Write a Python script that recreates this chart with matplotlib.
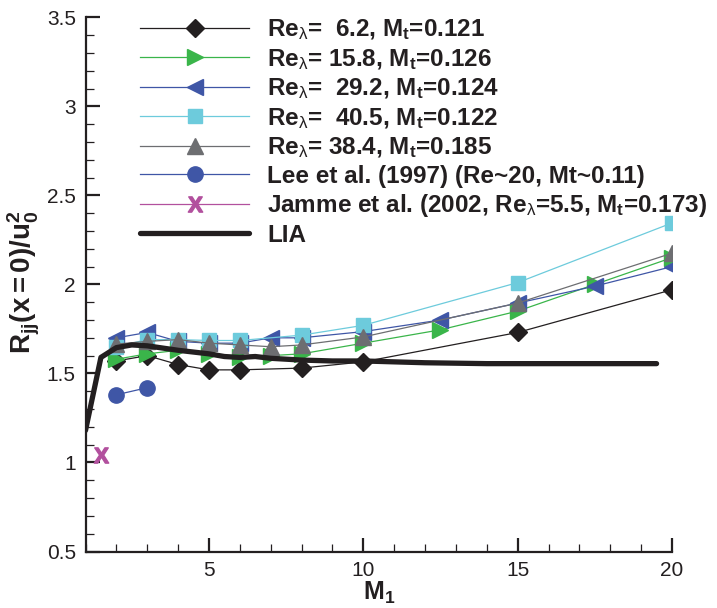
import matplotlib
matplotlib.use("Agg")
import matplotlib.pyplot as plt
from matplotlib.ticker import MultipleLocator, FixedLocator, FixedFormatter

plt.rcParams['font.family'] = ['Liberation Sans', 'DejaVu Sans']
plt.rcParams['mathtext.fontset'] = 'custom'
plt.rcParams['mathtext.rm'] = 'Liberation Sans'
plt.rcParams['mathtext.bf'] = 'Liberation Sans:bold'
plt.rcParams['mathtext.it'] = 'Liberation Sans:italic'
plt.rcParams['mathtext.sf'] = 'Liberation Sans'

# ---- data ----
re62_x = [2, 3, 4, 5, 6, 8, 10, 15, 20]
re62_y = [1.57, 1.60, 1.55, 1.52, 1.52, 1.53, 1.565, 1.73, 1.97]

re158_x = [2, 3, 4, 5, 6, 7, 8, 10, 12.5, 15, 17.5, 20]
re158_y = [1.58, 1.61, 1.63, 1.61, 1.59, 1.60, 1.61, 1.67, 1.745, 1.85, 2.0, 2.15]

re292_x = [2, 3, 4, 5, 6, 7, 8, 10, 12.5, 15, 17.5, 20]
re292_y = [1.70, 1.73, 1.68, 1.67, 1.67, 1.70, 1.70, 1.735, 1.80, 1.895, 1.99, 2.10]

re405_x = [2, 3, 4, 5, 6, 8, 10, 15, 20]
re405_y = [1.65, 1.69, 1.69, 1.685, 1.685, 1.715, 1.77, 2.01, 2.345]

re384_x = [2, 3, 4, 5, 6, 7, 8, 10, 15, 20]
re384_y = [1.665, 1.68, 1.69, 1.67, 1.66, 1.65, 1.66, 1.705, 1.895, 2.175]

lee_x = [2, 3]
lee_y = [1.38, 1.42]

jamme_x = [1.5]
jamme_y = [1.04]

lia_x = [1, 1.5, 2, 2.5, 3, 4, 5, 5.5, 6, 6.5, 7, 8, 9, 10, 11, 12, 14, 16, 18, 19.5]
lia_y = [1.18, 1.59, 1.645, 1.66, 1.655, 1.63, 1.61, 1.595, 1.59, 1.595, 1.585,
         1.575, 1.57, 1.57, 1.565, 1.56, 1.555, 1.555, 1.555, 1.555]

labels = [
    'Re$_{\\mathrm{λ}}$=  6.2, M$_{\\mathbf{t}}$=0.121',
    'Re$_{\\mathrm{λ}}$= 15.8, M$_{\\mathbf{t}}$=0.126',
    'Re$_{\\mathrm{λ}}$=  29.2, M$_{\\mathbf{t}}$=0.124',
    'Re$_{\\mathrm{λ}}$=  40.5, M$_{\\mathbf{t}}$=0.122',
    'Re$_{\\mathrm{λ}}$= 38.4, M$_{\\mathbf{t}}$=0.185',
    'Lee et al. (1997) (Re~20, Mt~0.11)',
    'Jamme et al. (2002, Re$_{\\mathrm{λ}}$=5.5, M$_{\\mathbf{t}}$=0.173)',
    'LIA',
]

ytick_vals = [0.5, 1, 1.5, 2, 2.5, 3, 3.5]
ytick_labels = ['0.5', '1', '1.5', '2', '2.5', '3', '3.5']
xtick_vals = [5, 10, 15, 20]
xtick_labels = ['5', '10', '15', '20']

# ---- figure ----
fig = plt.figure(figsize=(7.17, 6.08), dpi=100)
ax = fig.add_axes([85.5 / 717, 56.5 / 608, (672 - 85.5) / 717, (551.5 - 17.3) / 608])

black = '#231f20'
green = '#3ab54a'
blue = '#3f56a6'
cyan = '#6dcbdc'
gray = '#6d6e71'
magenta = '#b2509e'

lw = 0.9
ax.plot(re62_x, re62_y, color=black, lw=lw, marker='D', ms=9.5, label=labels[0], zorder=3)
ax.plot(re158_x, re158_y, color=green, lw=lw, marker='>', ms=11, label=labels[1], zorder=3)
ax.plot(re292_x, re292_y, color=blue, lw=lw, marker='<', ms=11, label=labels[2], zorder=3)
ax.plot(re405_x, re405_y, color=cyan, lw=lw, marker='s', ms=9.5, label=labels[3], zorder=3)
ax.plot(re384_x, re384_y, color=gray, lw=lw, marker='^', ms=11, label=labels[4], zorder=3)
ax.plot(lee_x, lee_y, color=blue, lw=lw, marker='o', ms=11, label=labels[5], zorder=3)
ax.plot(jamme_x, jamme_y, color=magenta, lw=lw, marker=r'$\mathbf{X}$', ms=11,
        label=labels[6], zorder=3)
ax.plot(lia_x, lia_y, color=black, lw=3.8, solid_capstyle='round', solid_joinstyle='round',
        label=labels[7], zorder=4)

ax.set_xlim(1, 20)
ax.set_ylim(0.5, 3.5)
ax.xaxis.set_major_locator(FixedLocator(xtick_vals))
ax.xaxis.set_major_formatter(FixedFormatter(xtick_labels))
ax.xaxis.set_minor_locator(MultipleLocator(1))
ax.yaxis.set_major_locator(FixedLocator(ytick_vals))
ax.yaxis.set_major_formatter(FixedFormatter(ytick_labels))
ax.yaxis.set_minor_locator(MultipleLocator(0.1))

for s in ['top', 'right']:
    ax.spines[s].set_visible(False)
for s in ['left', 'bottom']:
    ax.spines[s].set_linewidth(1.6)
    ax.spines[s].set_color(black)

ax.tick_params(which='major', direction='in', length=10, width=1.6, color=black,
               labelsize=15, pad=7, labelcolor=black)
ax.tick_params(which='minor', direction='in', length=6, width=0.9, color=black)

ax.set_xlabel(r'$\mathbf{M_1}$', fontsize=18, labelpad=0, color=black)
ax.set_ylabel(r'$\mathbf{R_{jj}(x=0)/u_0^2}$', fontsize=20, color=black)
ax.yaxis.set_label_coords(-0.074, 0.505)

leg = fig.legend(loc='upper left', bbox_to_anchor=(140 / 717, 1 - 17.5 / 608),
                 frameon=False, prop={'weight': 'bold', 'size': 17.5},
                 handlelength=4.5, handletextpad=0.74, labelspacing=0.19,
                 borderpad=0, borderaxespad=0, numpoints=1)
for t in leg.get_texts():
    t.set_color(black)

fig.savefig('out.png', dpi=100)
